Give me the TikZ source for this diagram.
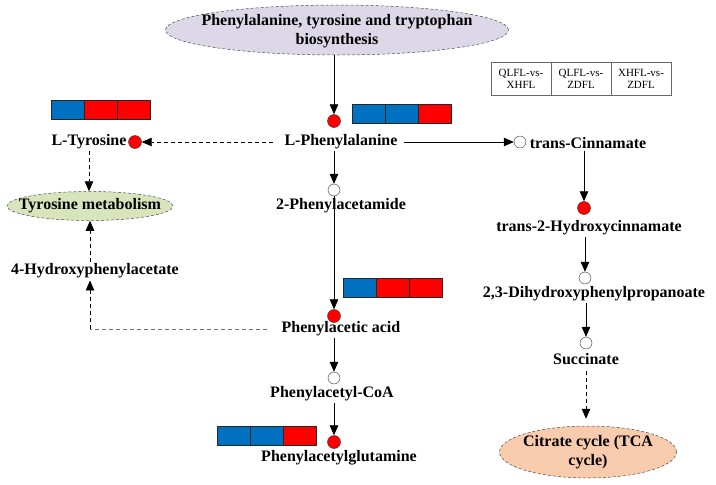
\documentclass[tikz,border=0pt]{standalone}
\usepackage{fontspec}
\setmainfont{Liberation Serif}
\usepackage{tikz}
\usetikzlibrary{arrows.meta,shapes.geometric,positioning}
\usepackage{xcolor}
\definecolor{fcblue}{RGB}{0,112,192}
\definecolor{fcred}{RGB}{255,0,0}
\definecolor{pwlilac}{RGB}{220,216,232}
\definecolor{pwgreen}{RGB}{216,228,188}
\definecolor{pwpeach}{RGB}{248,203,173}
\tikzstyle{flow} = [line width=0.8pt,-{Triangle[length=10pt,width=8.5pt]},color=black]
\tikzstyle{dflow} = [flow, dash pattern=on 4pt off 3pt]
\tikzstyle{pathway} = [ellipse, draw=black!70, line width=0.5pt, dash pattern=on 3pt off 2pt, inner sep=0pt]

\begin{document}
\begin{tikzpicture}[x=1pt, y=-1pt,
    metab/.style={font=\fontsize{16}{19}\selectfont\bfseries, inner sep=2pt, align=center},
    hit/.style={circle, draw=black!80, fill=fcred, minimum size=13pt, inner sep=0pt},
    nohit/.style={circle, draw=black!80, fill=white, minimum size=12pt, inner sep=0pt},
    cell/.style={rectangle, draw=black!85, line width=0.7pt, minimum width=33pt, minimum height=19pt, inner sep=0pt, outer sep=0pt},
    legend/.style={rectangle, draw=black!60, line width=0.5pt, minimum width=60pt, minimum height=33pt, inner sep=0pt, outer sep=0pt, font=\fontsize{11}{12}\selectfont, align=center}]

\useasboundingbox (0,0) rectangle (716,485);

% Pathway ellipses
\node[pathway, fill=pwlilac, minimum width=343pt, minimum height=50pt] (src) at (337,30) {};
\node[metab] (srct) at (337,31) {Phenylalanine, tyrosine and tryptophan\\biosynthesis};
\node[pathway, fill=pwgreen, minimum width=166pt, minimum height=29pt] (tmet) at (90,206) {};
\node[metab] (tmett) at (tmet) {Tyrosine metabolism};
\node[pathway, fill=pwpeach, minimum width=177pt, minimum height=52pt] (tca) at (588,452) {};
\node[metab] (tcat) at (tca) {Citrate cycle (TCA\\cycle)};

% Legend
\node[legend] (lg1) at (521,78.5) {QLFL-vs-\\XHFL};
\node[legend, right=0pt of lg1] (lg2) {QLFL-vs-\\ZDFL};
\node[legend, right=0pt of lg2] (lg3) {XHFL-vs-\\ZDFL};

% Metabolites
\node[metab] (phe) at (341,142) {L-Phenylalanine};
\node[metab] (tyr) at (89,142) {L-Tyrosine};
\node[metab] (pam) at (341,206) {2-Phenylacetamide};
\node[metab] (hpa) at (95,271) {4-Hydroxyphenylacetate};
\node[metab] (pac) at (341,329) {Phenylacetic acid};
\node[metab] (pcoa) at (332,394) {Phenylacetyl-CoA};
\node[metab] (pglu) at (339,458) {Phenylacetylglutamine};
\node[metab] (cinn) at (588,143) {trans-Cinnamate};
\node[metab] (hcin) at (589,228) {trans-2-Hydroxycinnamate};
\node[metab] (dhpp) at (594,294) {2,3-Dihydroxyphenylpropanoate};
\node[metab] (succ) at (586,359) {Succinate};

% Dots
\node[hit] (dphe) at (334,121) {};
\node[hit] (dtyr) at (135,142) {};
\node[nohit] (dpam) at (334,190) {};
\node[hit] (dpac) at (334,316) {};
\node[nohit] (dpcoa) at (334,378) {};
\node[hit] (dpglu) at (334,442) {};
\node[nohit] (dcinn) at (520,142) {};
\node[hit] (dhcin) at (584,208) {};
\node[nohit] (ddhpp) at (585,278) {};
\node[nohit] (dsucc) at (586,343) {};

% Fold change bars
\node[cell, fill=fcblue] (bphe1) at (368.5,113.5) {};
\node[cell, fill=fcblue, right=0pt of bphe1] (bphe2) {};
\node[cell, fill=fcred, right=0pt of bphe2] (bphe3) {};

\node[cell, fill=fcblue] (btyr1) at (67.5,109.5) {};
\node[cell, fill=fcred, right=0pt of btyr1] (btyr2) {};
\node[cell, fill=fcred, right=0pt of btyr2] (btyr3) {};

\node[cell, fill=fcblue] (bpac1) at (359.5,287.5) {};
\node[cell, fill=fcred, right=0pt of bpac1] (bpac2) {};
\node[cell, fill=fcred, right=0pt of bpac2] (bpac3) {};

\node[cell, fill=fcblue] (bpglu1) at (233.5,435.5) {};
\node[cell, fill=fcblue, right=0pt of bpglu1] (bpglu2) {};
\node[cell, fill=fcred, right=0pt of bpglu2] (bpglu3) {};

% Connections
\draw[flow] (src.south -| dphe) -- (dphe);
\draw[flow] (phe.south -| dpam) -- (dpam);
\draw[flow] (dpam) -- (dpac);
\draw[flow] (pac.south -| dpcoa) -- (dpcoa);
\draw[flow] (pcoa.south -| dpglu) -- (dpglu);
\draw[flow, shorten <=4pt] (phe.east |- dcinn) -- (dcinn);
\draw[flow] (cinn.south -| dhcin) -- (dhcin);
\draw[flow] (hcin.south -| ddhpp) -- (ddhpp);
\draw[flow] (dhpp.south -| dsucc) -- (dsucc);

% Side branches
\draw[dflow, shorten <=9pt] (phe.west |- dtyr) -- (dtyr);
\draw[dflow] (tyr.south) -- (tyr.south |- tmet.north);
\coordinate (hc) at (tmet.south |- pac.west);
\draw[line width=0.8pt, black!55, dash pattern=on 4pt off 3pt, shorten <=12pt] (pac.west) -- (hc);
\draw[dflow] (hc) -- (hc |- hpa.south);
\draw[dflow] (hc |- hpa.north) -- (tmet.south);
\draw[dflow, shorten <=4pt, shorten >=7pt] (succ.south) -- (succ.south |- tca.north);
\end{tikzpicture}
\end{document}
